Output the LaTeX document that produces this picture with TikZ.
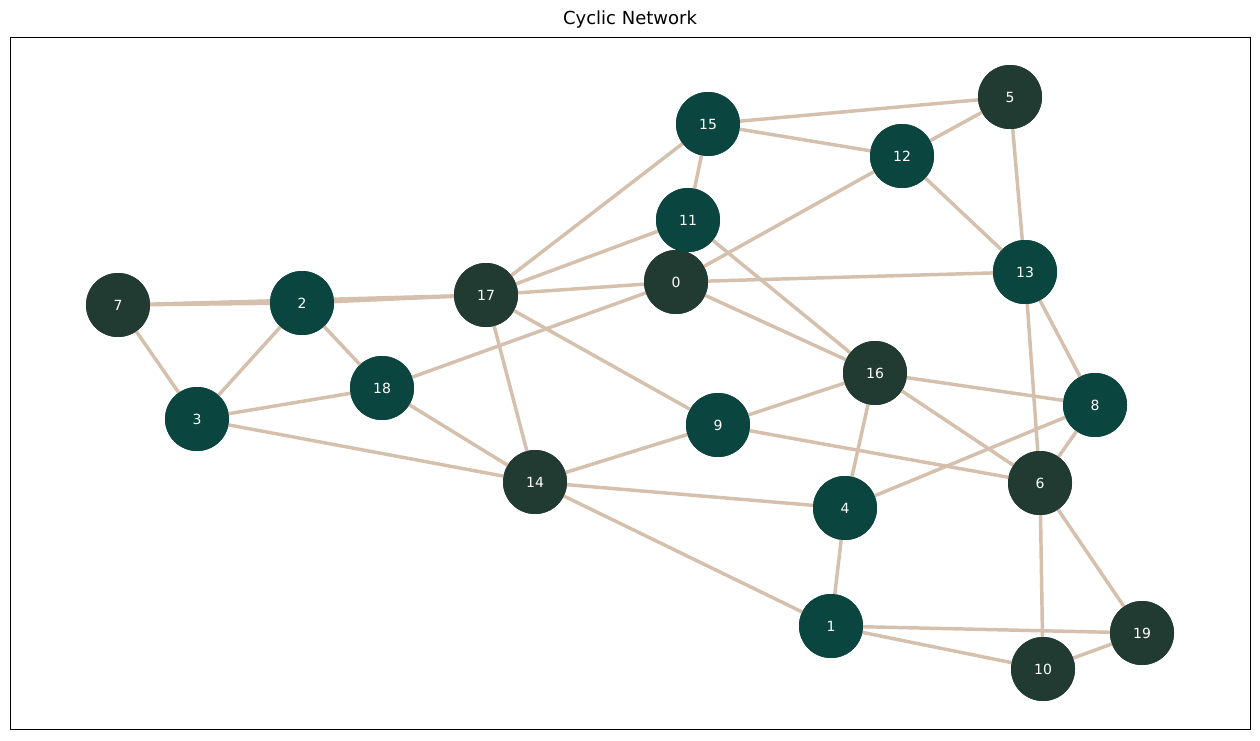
\documentclass[tikz,border=0pt]{standalone}
\usepackage{fontspec}
\setmainfont{DejaVu Sans}
\begin{document}
\begin{tikzpicture}[x=0.75pt,y=-0.75pt,
  nd/.style={circle,minimum size=48pt,inner sep=0pt,text=white,font=\fontsize{10.5}{12}\selectfont},
  t/.style={nd,fill=teal0},
  g/.style={nd,fill=gray0},
  e/.style={draw=edgec,line width=2.6pt}]
\definecolor{teal0}{HTML}{0B453F}
\definecolor{gray0}{HTML}{213B33}
\definecolor{edgec}{HTML}{D5C0AD}
\useasboundingbox (0,0) rectangle (1260,740);
\fill[white] (0,0) rectangle (1260,740);
\node[font=\fontsize{13.5}{16}\selectfont] (title) at (630,20) {Cyclic Network};
\draw[line width=0.6pt] (10,37) rectangle (1250,729);
\begin{scope}[every node/.style={}]
\coordinate (c0) at (676,282);
\end{scope}
\node[g] (n0) at (676,282) {0};
\node[t] (n1) at (831,626) {1};
\node[t] (n2) at (302,303) {2};
\node[t] (n3) at (197,419) {3};
\node[t] (n4) at (845,508) {4};
\node[g] (n5) at (1010,97) {5};
\node[g] (n6) at (1040,483) {6};
\node[g] (n7) at (118,305) {7};
\node[t] (n8) at (1095,405) {8};
\node[t] (n9) at (718,425) {9};
\node[g] (n10) at (1043,669) {10};
\node[t] (n11) at (688,220) {11};
\node[t] (n12) at (902,156) {12};
\node[t] (n13) at (1025,272) {13};
\node[g] (n14) at (535,482) {14};
\node[t] (n15) at (708,124) {15};
\node[g] (n16) at (875,373) {16};
\node[g] (n17) at (486,295) {17};
\node[t] (n18) at (382,388) {18};
\node[g] (n19) at (1142,633) {19};
\begin{scope}[on background layer/.try]
\end{scope}
\begin{pgfinterruptboundingbox}\end{pgfinterruptboundingbox}
\foreach \a/\b in {7/2,7/17,7/3,2/3,2/18,2/17,3/18,3/14,18/0,18/14,17/15,17/11,17/0,17/14,17/9,15/11,15/12,15/5,5/12,5/13,12/0,12/13,11/16,0/13,0/16,16/9,16/8,16/6,16/4,9/14,9/6,14/4,14/1,4/8,4/1,13/8,13/6,8/6,6/10,6/19,1/19,1/10,10/19}
  \draw[e] (n\a.center) -- (n\b.center);
\foreach \i/\s in {0/g,1/t,2/t,3/t,4/t,5/g,6/g,7/g,8/t,9/t,10/g,11/t,12/t,13/t,14/g,15/t,16/g,17/g,18/t,19/g}
  \node[\s] at (n\i) {\i};
\end{tikzpicture}
\end{document}
